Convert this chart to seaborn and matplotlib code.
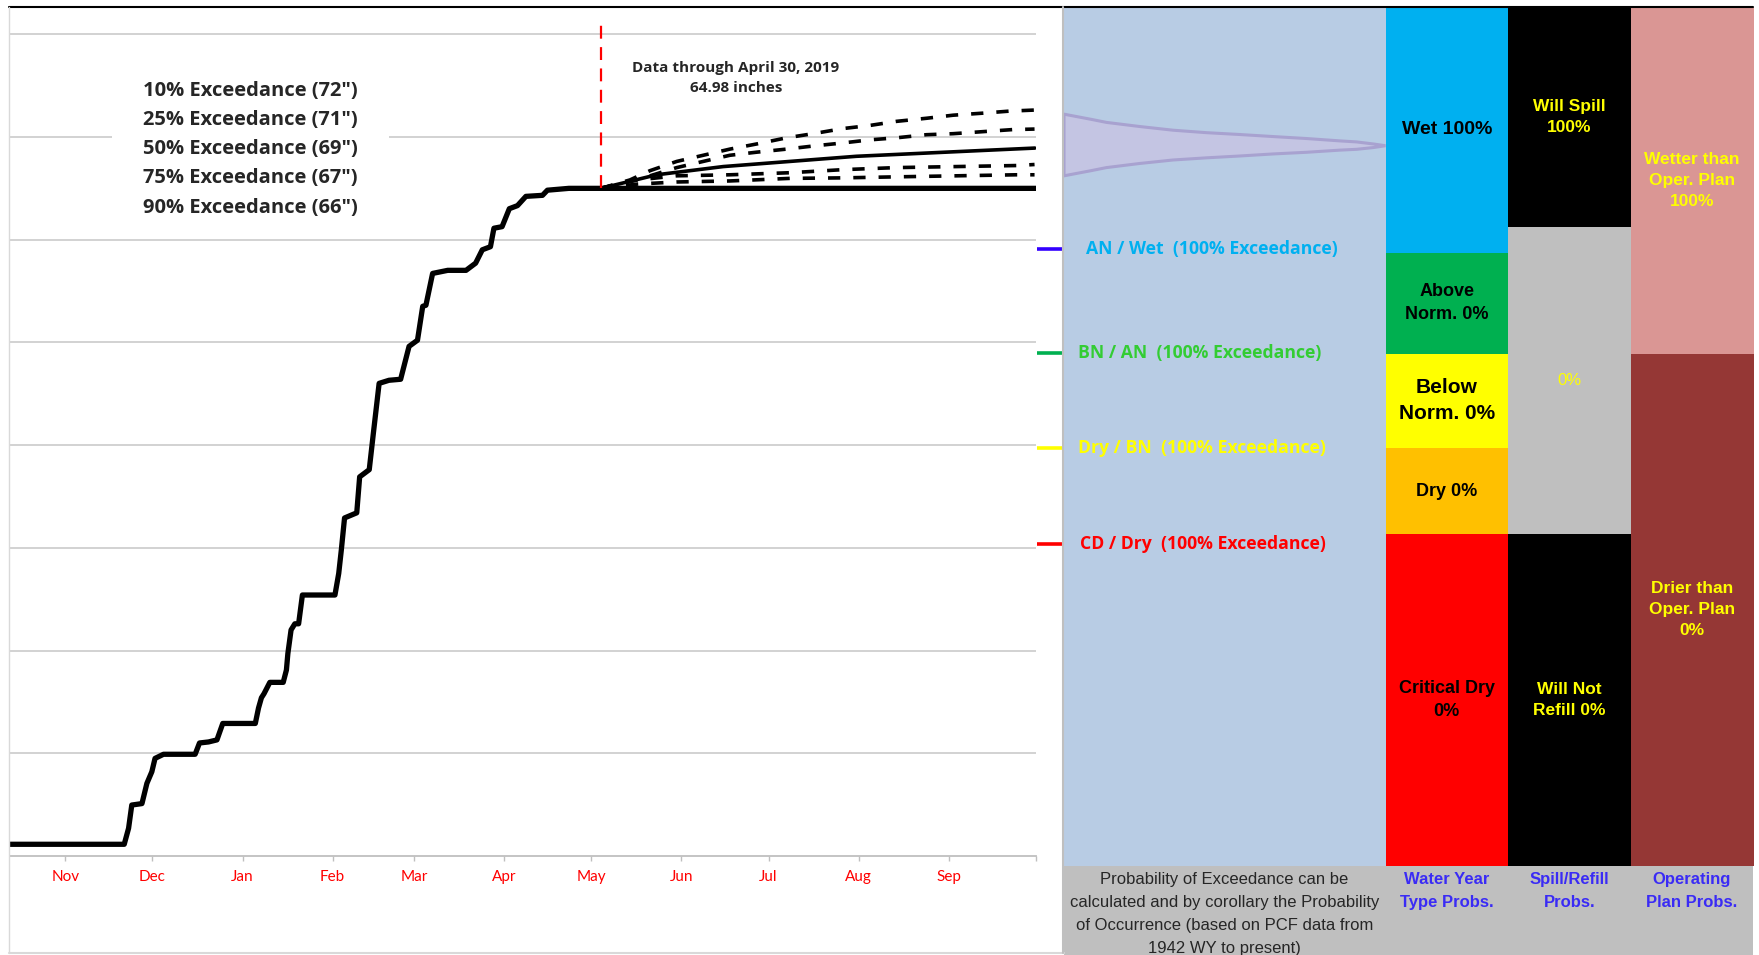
import pandas as pd
import seaborn as sns
import matplotlib.pyplot as plt
from matplotlib.patches import Rectangle, Polygon

# observed cumulative precipitation, day of water year (Oct 1 = 0) vs inches
obs_day = [12, 51.3, 52.8, 53.9, 57.4, 59.1, 60.8, 61.9, 64.8, 75.7, 77.2, 80.3, 83.2, 85.2,
           96.4, 97.5, 98.5, 99.4, 101.4, 106, 107.1, 107.6, 108.7, 110, 111.3, 112.6, 123.8,
           125.1, 126, 127.1, 131.3, 132.3, 135.6, 137, 139, 142.4, 146.4, 149.3, 152.2, 154,
           155.1, 157.4, 162.6, 168.9, 172.2, 174.5, 177.3, 178.5, 181.3, 183.8, 186.6, 189.5,
           195.2, 196.9, 204.3, 215.3, 365]
obs_in = [1.14, 1.14, 2.7, 4.96, 5.1, 7.07, 8.2, 9.5, 9.9, 9.9, 11.0, 11.1, 11.3, 12.9,
          12.9, 14.4, 15.4, 15.8, 16.9, 16.9, 18.1, 19.7, 22.0, 22.6, 22.6, 25.4, 25.4,
          27.5, 29.8, 32.9, 33.4, 36.9, 37.6, 41.1, 46.0, 46.3, 46.4, 49.6, 50.2, 53.5,
          53.6, 56.7, 57.0, 57.0, 57.7, 59.0, 59.3, 61.1, 61.25, 63.0, 63.3, 64.2,
          64.3, 64.8, 64.98, 64.98, 64.98]

# exceedance forecasts from May 1
fc_names = ['10%', '25%', '50%', '75%', '90%']
fc_days = {
    '10%': [215.3, 225.3, 232.2, 241.4, 250.5, 259.7, 268.9, 279.2, 288.3, 298.6, 307.8, 317, 327.3, 336.5, 346.8, 356, 364.5],
    '25%': [215.3, 232.2, 241.4, 250.5, 259.7, 268.9, 279.2, 288.3, 298.6, 307.8, 317, 327.3, 336.5, 346.8, 357, 364.5],
    '50%': [215.3, 234.5, 257.4, 280.3, 303.2, 326.2, 349.1, 364.6],
    '75%': [215.3, 228, 241.4, 259.7, 280.3, 298.6, 317, 337.6, 358.3, 364.5],
    '90%': [215.3, 228, 241.4, 259.7, 280.3, 298.6, 317, 337.6, 358.3, 364.5],
}
fc_vals = {
    '10%': [64.98, 65.8, 66.7, 67.6, 68.2, 68.8, 69.3, 69.9, 70.3, 70.8, 71.1, 71.5, 71.8, 72.1, 72.3, 72.5, 72.6],
    '25%': [64.98, 66.2, 67.0, 67.6, 68.2, 68.5, 68.8, 69.1, 69.4, 69.7, 69.9, 70.2, 70.3, 70.5, 70.7, 70.75],
    '50%': [64.98, 66.3, 67.1, 67.6, 68.1, 68.4, 68.7, 68.9],
    '75%': [64.98, 65.8, 66.2, 66.3, 66.5, 66.8, 67.0, 67.1, 67.2, 67.3],
    '90%': [64.98, 65.4, 65.6, 65.7, 65.95, 66.0, 66.1, 66.2, 66.3, 66.3],
}
exceed_labels = ['10% Exceedance (72")', '25% Exceedance (71")', '50% Exceedance (69")',
                 '75% Exceedance (67")', '90% Exceedance (66")']

month_names = ['Nov', 'Dec', 'Jan', 'Feb', 'Mar', 'Apr', 'May', 'Jun', 'Jul', 'Aug', 'Sep']
month_days = [31, 61, 92, 123, 151, 182, 212, 243, 273, 304, 335]
data_day = 215.3
data_note = 'Data through April 30, 2019\n64.98 inches'

# water year type thresholds (inches)
thresh_names = ['AN / Wet  (100% Exceedance)', 'BN / AN  (100% Exceedance)',
                'Dry / BN  (100% Exceedance)', 'CD / Dry  (100% Exceedance)']
thresh_in = [59.1, 49.0, 39.7, 30.4]
thresh_mark = ['#3300FF', '#00B050', '#FFFF00', '#FF0000']
thresh_txt = ['#00B0F0', '#33CC33', '#FFFF00', '#FF0000']

# distribution sketch in the blue panel
bell_frac = [0.0, 0.084, 0.132, 0.235, 0.339, 0.443, 0.547, 0.651, 0.754, 0.858, 0.910, 0.962, 1.0]
bell_upper = [72.2, 71.7, 71.4, 71.0, 70.64, 70.4, 70.22, 70.02, 69.83, 69.6, 69.5, 69.3, 69.13]
bell_lower = [66.2, 66.7, 67.0, 67.4, 67.74, 67.95, 68.13, 68.33, 68.49, 68.7, 68.78, 68.95, 69.13]

# probability columns: level bounds (inches scale), labels, colours
wy_bounds = [82.63, 58.7, 48.9, 39.75, 31.3, -0.97]
wy_labels = ['Wet 100%', 'Above\nNorm. 0%', 'Below\nNorm. 0%', 'Dry 0%', 'Critical Dry\n0%']
wy_colors = ['#00B0F0', '#00B050', '#FFFF00', '#FFC000', '#FF0000']
sp_bounds = [82.63, 61.2, 31.3, -0.97]
sp_labels = ['Will Spill\n100%', '0%', 'Will Not\nRefill 0%']
sp_colors = ['#000000', '#BFBFBF', '#000000']
op_bounds = [82.63, 48.9, -0.97]
op_labels = ['Wetter than\nOper. Plan\n100%', 'Drier than\nOper. Plan\n0%']
op_colors = ['#DA9694', '#953735']
col_titles = ['Water Year\nType Probs.', 'Spill/Refill\nProbs.', 'Operating\nPlan Probs.']
foot_note = ('Probability of Exceedance can be\ncalculated and by corollary the Probability\n'
             'of Occurrence (based on PCF data from\n1942 WY to present)')

sns.set_style('white')
plt.rcParams['font.family'] = ['Lato', 'DejaVu Sans']
BOLD = ['Open Sans', 'DejaVu Sans']
ARIAL = ['Liberation Sans', 'DejaVu Sans']

W, H = 1759, 955
fig = plt.figure(figsize=(W / 100, H / 100), dpi=100)


def box(x0, y0, x1, y1):
    return [x0 / W, 1 - y1 / H, (x1 - x0) / W, (y1 - y0) / H]


YTOP = 82.63
YBOT = -0.97

# ---- main chart
ax = fig.add_axes(box(10, 7, 1036, 856))
ax.set_xlim(12, 365)
ax.set_ylim(0, YTOP)
ax.set_axisbelow(True)
ax.set_yticks(range(10, 90, 10))
ax.set_yticklabels([])
ax.grid(axis='y', color='#CFCFCF', linewidth=1.3)
ax.grid(axis='x', visible=False)
ax.tick_params(axis='y', length=0)
ax.set_xticks(month_days + [365])
ax.set_xticklabels(month_names + [''])
ax.tick_params(axis='x', colors='#BFBFBF', labelcolor='#FF0000', labelsize=11,
               length=3.6, width=1, direction='out', pad=6.5, bottom=True)
for s in ['top', 'right', 'left']:
    ax.spines[s].set_visible(False)
ax.spines['bottom'].set_color('#BFBFBF')
ax.spines['bottom'].set_linewidth(1.3)

fc = pd.concat([pd.DataFrame({'day': fc_days[n], 'inches': fc_vals[n], 'series': n})
                for n in fc_names], ignore_index=True)
dash = (3.4, 3.6)
sns.lineplot(data=fc, x='day', y='inches', style='series',
             dashes={'10%': dash, '25%': dash, '50%': '', '75%': dash, '90%': dash},
             color='black', linewidth=2.6, estimator=None, sort=False, legend=False, ax=ax)
sns.lineplot(x=obs_day, y=obs_in, color='black', linewidth=3.8, estimator=None,
             sort=False, ax=ax, solid_joinstyle='round')
ax.set_xlabel('')
ax.set_ylabel('')

ax.plot([data_day, data_day], [obs_in[-1], 81.5], color='#FF0000', linewidth=1.6,
        dashes=(5.8, 3.8), zorder=3)
ax.text(261.7, 75.7, data_note, ha='center', va='center', fontsize=11, fontweight='bold',
        family=BOLD, linespacing=1.5)

ax.add_patch(Rectangle((47.2, 62), 95.2, 16, facecolor='white', edgecolor='none', zorder=1))
for i, lab in enumerate(exceed_labels):
    ax.text(57.6, 74.5 - i * 2.85, lab, ha='left', va='center', fontsize=14.5,
            fontweight='bold', family=BOLD, zorder=4)

for t, c in zip(thresh_in, thresh_mark):
    ax.plot([365.3, 374.6], [t, t], color=c, linewidth=2.6, clip_on=False,
            solid_capstyle='butt')

# ---- blue distribution panel
axp = fig.add_axes(box(1064, 7, 1385.5, 866))
axp.set_xlim(0, 1)
axp.set_ylim(YBOT, YTOP)
axp.set_facecolor('#B8CCE4')
axp.set_xticks([])
axp.set_yticks([])
for s in axp.spines.values():
    s.set_visible(False)
pts = list(zip(bell_frac, bell_upper)) + list(zip(bell_frac[::-1], bell_lower[::-1]))
axp.add_patch(Polygon(pts, closed=True, facecolor='#C4C5E3', edgecolor='#A8A2D0',
                      linewidth=2.2))
for name, t, c, dx in zip(thresh_names, thresh_in, thresh_txt, [0.068, 0.044, 0.044, 0.05]):
    axp.text(dx, t, name, color=c, fontsize=12.7, fontweight='bold', family=BOLD,
             ha='left', va='center')

# ---- probability columns
axc = fig.add_axes(box(1385.5, 7, 1753.5, 866))
axc.set_xlim(-0.5, 2.5)
axc.set_ylim(YBOT, YTOP)
axc.axis('off')
cols = [(wy_bounds, wy_labels, wy_colors, 'black', [14, 13, 15, 13, 13]),
        (sp_bounds, sp_labels, sp_colors, '#FFFF00', [12.5, 12, 12.5]),
        (op_bounds, op_labels, op_colors, '#FFFF00', [12.5, 12.5])]
for k, (bounds, labels, colors, tcol, sizes) in enumerate(cols):
    tops, bots = bounds[:-1], bounds[1:]
    axc.bar([k] * len(labels), [a - b for a, b in zip(tops, bots)], bottom=bots,
            width=1.0, color=colors, edgecolor='none')
    for top, bot, lab, fs in zip(tops, bots, labels, sizes):
        weight = 'normal' if lab == '0%' else 'bold'
        axc.text(k, (top + bot) / 2, lab, ha='center', va='center', color=tcol,
                 fontsize=fs, fontweight=weight, family=ARIAL, linespacing=1.5)

# ---- frame, footer
ov = fig.add_axes([0, 0, 1, 1])
ov.set_xlim(0, W)
ov.set_ylim(H, 0)
ov.axis('off')
ov.add_patch(Rectangle((1064, 866), 689.5, 95, facecolor='#BFBFBF', edgecolor='none'))
ov.plot([9, 1753.5], [7, 7], color='black', linewidth=1.5)
ov.plot([9.5, 9.5], [7, 953], color='#D9D9D9', linewidth=1)
ov.plot([9, 1064], [953, 953], color='#D9D9D9', linewidth=1.5)
ov.plot([1063.5, 1063.5], [7, 953], color='#BFBFBF', linewidth=1.5)
ov.text(1224.5, 872, foot_note, ha='center', va='top', fontsize=12, family=ARIAL,
        linespacing=1.68)
for xc, title in zip([1447, 1569.4, 1691.7], col_titles):
    ov.text(xc, 872, title, ha='center', va='top', fontsize=12, fontweight='bold',
            color='#3A2BF5', family=ARIAL, linespacing=1.68)

fig.savefig('out.png', dpi=100)
